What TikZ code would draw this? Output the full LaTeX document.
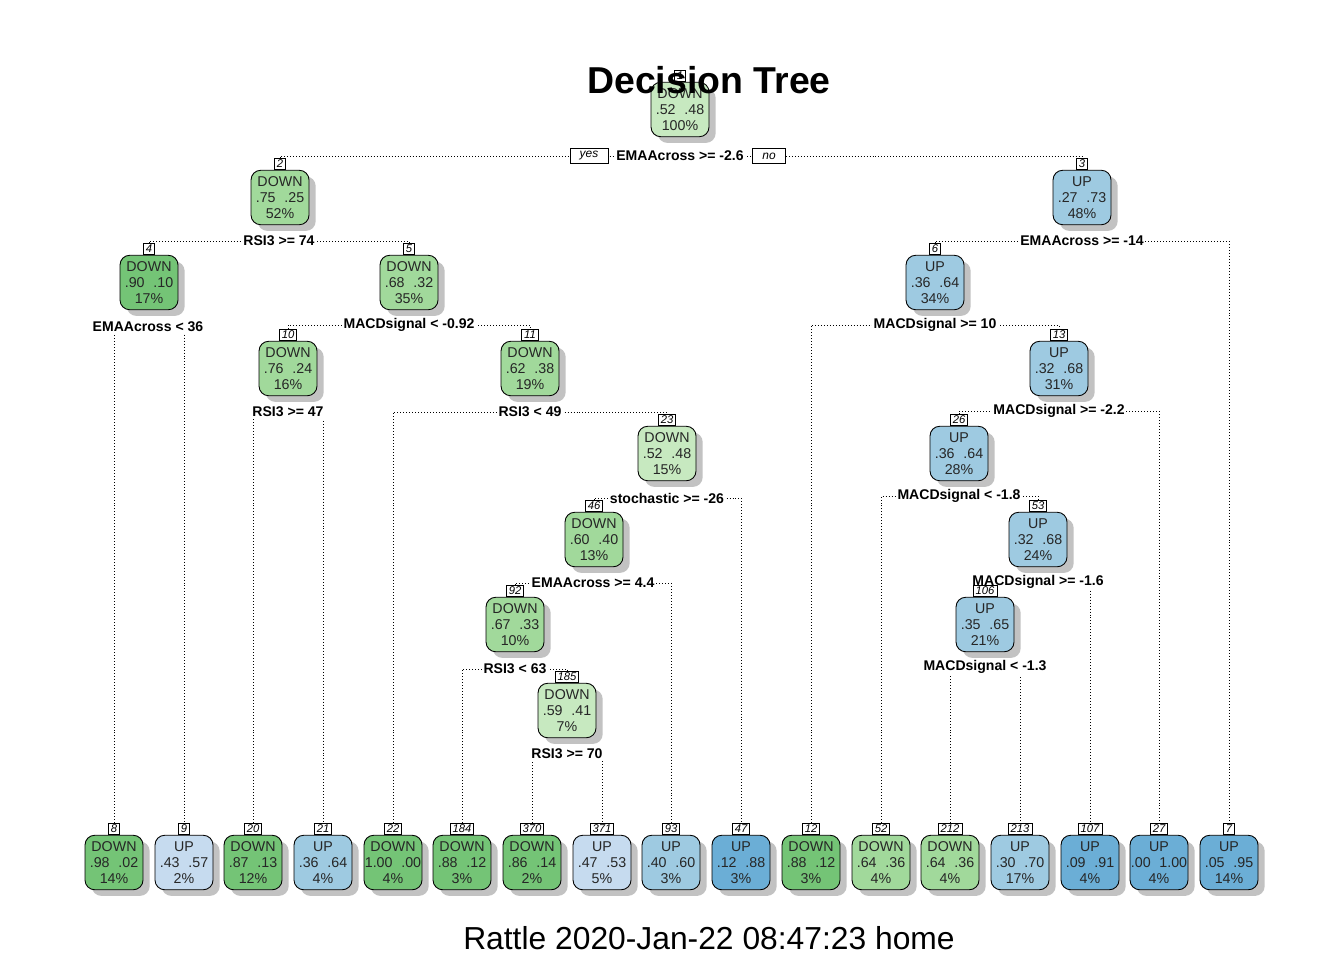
\documentclass[tikz,border=0pt]{standalone}
\usepackage{fontspec}
\setmainfont{Liberation Sans}
\usepackage{tikz}
\usetikzlibrary{positioning, shadows, backgrounds}

\definecolor{gdark}{RGB}{116,196,118}
\definecolor{gmid}{RGB}{161,217,155}
\definecolor{glight}{RGB}{199,233,192}
\definecolor{blight}{RGB}{198,219,239}
\definecolor{bmid}{RGB}{158,202,225}
\definecolor{bdark}{RGB}{107,174,214}

\newcommand{\probs}[2]{#1\hspace{5pt}#2}

\begin{document}
\begin{tikzpicture}[
  x=0.02cm, y=-0.02cm,
  every node/.style={font=\fontsize{8.1}{9.2}\selectfont},
  % --- box styles ---
  treebox/.style={
    draw=black, line width=0.5pt, rounded corners=5.5pt,
    minimum width=33pt, minimum height=31pt, inner sep=0pt,
    align=center, text=black!85, label distance=0.9pt,
    drop shadow={shadow xshift=3.8pt, shadow yshift=-3.5pt,
      fill=black!24, opacity=1},
  },
  gdarkbox/.style={treebox, fill=gdark},
  gmidbox/.style={treebox, fill=gmid},
  glightbox/.style={treebox, fill=glight},
  blightbox/.style={treebox, fill=blight},
  bmidbox/.style={treebox, fill=bmid},
  bdarkbox/.style={treebox, fill=bdark},
  numlab/.style={
    draw=black, fill=white, line width=0.4pt,
    font=\fontsize{6.4}{6.4}\selectfont\itshape,
    inner xsep=1.4pt, inner ysep=0pt, minimum width=6.3pt, minimum height=6.4pt,
  },
  num/.style={label={[numlab, name=l#1]above:#1}},
  splitlab/.style={font=\fontsize{8}{9}\selectfont\bfseries, fill=white, inner sep=1pt},
  yesno/.style={
    draw=black, fill=white, line width=0.45pt,
    font=\fontsize{6.8}{7}\selectfont\itshape, minimum height=8.5pt, inner sep=0pt,
  },
  branch/.style={line width=0.45pt, dash pattern=on 0.45pt off 1.25pt},
]
\useasboundingbox (0,0) rectangle (1344,960);

% ---------- split labels ----------
\node[splitlab] (s1) at (680,156) {EMAAcross >= -2.6};
\node[splitlab] (s2) at (279,241) {RSI3 >= 74};
\node[splitlab] (s3) at (1082,241) {EMAAcross >= -14};
\node[splitlab] (s4) at (148,327) {EMAAcross < 36};
\node[splitlab] (s5) at (409,325) {MACDsignal < -0.92};
\node[splitlab] (s6) at (935,325) {MACDsignal >= 10};
\node[splitlab] (s10) at (288,412) {RSI3 >= 47};
\node[splitlab] (s11) at (530,412) {RSI3 < 49};
\node[splitlab] (s13) at (1059,411) {MACDsignal >= -2.2};
\node[splitlab] (s23) at (667,498) {stochastic >= -26};
\node[splitlab] (s26) at (959,496) {MACDsignal < -1.8};
\node[splitlab] (s46) at (593,583) {EMAAcross >= 4.4};
\node[splitlab] (s53) at (1038,582) {MACDsignal >= -1.6};
\node[splitlab] (s92) at (515,669) {RSI3 < 63};
\node[splitlab] (s106) at (985,667) {MACDsignal < -1.3};
\node[splitlab] (s185) at (567,754) {RSI3 >= 70};

\node[yesno, minimum width=21.5pt] (yes) at (589,156) {yes};
\node[yesno, minimum width=18.7pt] (no) at (769,156) {no};

% ---------- inner nodes ----------
\node[glightbox, num=1] (n1) at (680,109.5) {DOWN\\\probs{.52}{.48}\\100\%};
\node[gmidbox, num=2] (n2) at (280,197.5) {DOWN\\\probs{.75}{.25}\\52\%};
\node[bmidbox, num=3] (n3) at (1082,197.5) {UP\\\probs{.27}{.73}\\48\%};
\node[gdarkbox, num=4] (n4) at (149,282.5) {DOWN\\\probs{.90}{.10}\\17\%};
\node[gmidbox, num=5] (n5) at (409,282.5) {DOWN\\\probs{.68}{.32}\\35\%};
\node[bmidbox, num=6] (n6) at (935,282.5) {UP\\\probs{.36}{.64}\\34\%};
\node[gmidbox, num=10] (n10) at (288,368.5) {DOWN\\\probs{.76}{.24}\\16\%};
\node[gmidbox, num=11] (n11) at (530,368.5) {DOWN\\\probs{.62}{.38}\\19\%};
\node[bmidbox, num=13] (n13) at (1059,368.5) {UP\\\probs{.32}{.68}\\31\%};
\node[glightbox, num=23] (n23) at (667,453.5) {DOWN\\\probs{.52}{.48}\\15\%};
\node[bmidbox, num=26] (n26) at (959,453.5) {UP\\\probs{.36}{.64}\\28\%};
\node[gmidbox, num=46] (n46) at (594,539.5) {DOWN\\\probs{.60}{.40}\\13\%};
\node[bmidbox, num=53] (n53) at (1038,539.5) {UP\\\probs{.32}{.68}\\24\%};
\node[gmidbox, num=92] (n92) at (515,624.5) {DOWN\\\probs{.67}{.33}\\10\%};
\node[bmidbox, num=106] (n106) at (985,624.5) {UP\\\probs{.35}{.65}\\21\%};
\node[glightbox, num=185] (n185) at (567,710.5) {DOWN\\\probs{.59}{.41}\\7\%};

% ---------- leaves ----------
\node[gdarkbox, num=8] (n8) at (114,862.5) {DOWN\\\probs{.98}{.02}\\14\%};
\node[blightbox, num=9] (n9) at (184,862.5) {UP\\\probs{.43}{.57}\\2\%};
\node[gdarkbox, num=20] (n20) at (253,862.5) {DOWN\\\probs{.87}{.13}\\12\%};
\node[bmidbox, num=21] (n21) at (323,862.5) {UP\\\probs{.36}{.64}\\4\%};
\node[gdarkbox, num=22] (n22) at (393,862.5) {DOWN\\\probs{1.00}{.00}\\4\%};
\node[gdarkbox, num=184] (n184) at (462,862.5) {DOWN\\\probs{.88}{.12}\\3\%};
\node[gdarkbox, num=370] (n370) at (532,862.5) {DOWN\\\probs{.86}{.14}\\2\%};
\node[blightbox, num=371] (n371) at (602,862.5) {UP\\\probs{.47}{.53}\\5\%};
\node[bmidbox, num=93] (n93) at (671,862.5) {UP\\\probs{.40}{.60}\\3\%};
\node[bdarkbox, num=47] (n47) at (741,862.5) {UP\\\probs{.12}{.88}\\3\%};
\node[gdarkbox, num=12] (n12) at (811,862.5) {DOWN\\\probs{.88}{.12}\\3\%};
\node[gmidbox, num=52] (n52) at (881,862.5) {DOWN\\\probs{.64}{.36}\\4\%};
\node[gmidbox, num=212] (n212) at (950,862.5) {DOWN\\\probs{.64}{.36}\\4\%};
\node[bmidbox, num=213] (n213) at (1020,862.5) {UP\\\probs{.30}{.70}\\17\%};
\node[bdarkbox, num=107] (n107) at (1090,862.5) {UP\\\probs{.09}{.91}\\4\%};
\node[bdarkbox, num=27] (n27) at (1159,862.5) {UP\\\probs{.00}{1.00}\\4\%};
\node[bdarkbox, num=7] (n7) at (1229,862.5) {UP\\\probs{.05}{.95}\\14\%};

% ---------- branches (behind everything) ----------
\begin{scope}[on background layer]
  \draw[branch] (l2.north) |- (s1.center) -| (l3.north);
  \draw[branch] (l4.north) |- (s2.center) -| (l5.north);
  \draw[branch] (l6.north) |- (s3.center) -| (l7.north);
  \draw[branch] (l8.north) |- (s4.center) -| (l9.north);
  \draw[branch] (l10.north) |- (s5.center) -| (l11.north);
  \draw[branch] (l12.north) |- (s6.center) -| (l13.north);
  \draw[branch] (l20.north) |- (s10.center) -| (l21.north);
  \draw[branch] (l22.north) |- (s11.center) -| (l23.north);
  \draw[branch] (l26.north) |- (s13.center) -| (l27.north);
  \draw[branch] (l46.north) |- (s23.center) -| (l47.north);
  \draw[branch] (l52.north) |- (s26.center) -| (l53.north);
  \draw[branch] (l92.north) |- (s46.center) -| (l93.north);
  \draw[branch] (l106.north) |- (s53.center) -| (l107.north);
  \draw[branch] (l184.north) |- (s92.center) -| (l185.north);
  \draw[branch] (l212.north) |- (s106.center) -| (l213.north);
  \draw[branch] (l370.north) |- (s185.center) -| (l371.north);
\end{scope}

% ---------- title and footer ----------
\node[font=\fontsize{21.3}{24}\selectfont\bfseries] (title) at (709,80) {Decision Tree};
\node[font=\fontsize{18.1}{20}\selectfont] (footer) at (709,938) {Rattle 2020-Jan-22 08:47:23 home};

\end{tikzpicture}
\end{document}
